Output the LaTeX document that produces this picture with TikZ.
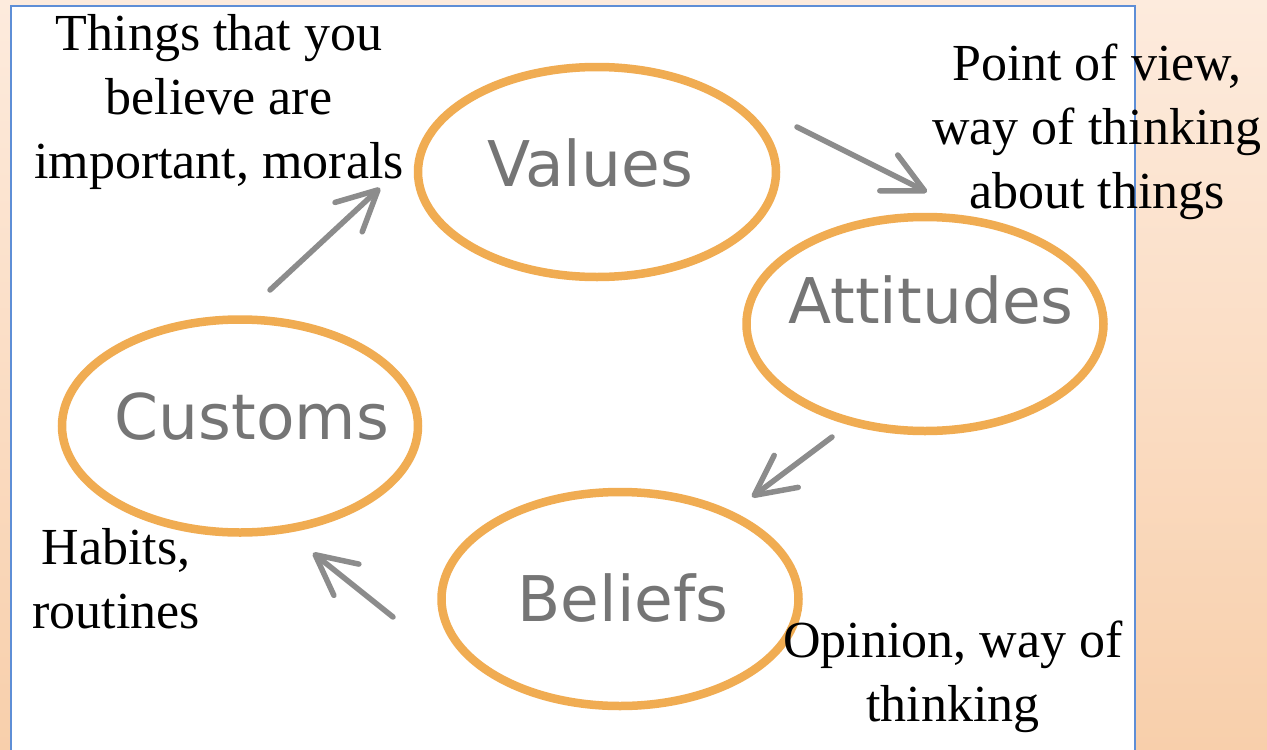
\documentclass[tikz,border=0pt]{standalone}
\usepackage{fontspec}
\setmainfont{Liberation Serif}
\newfontfamily\lblfont{DejaVu Sans}
\usetikzlibrary{arrows.meta,shapes.geometric}
\definecolor{peachtop}{HTML}{FDEBDD}
\definecolor{peachbot}{HTML}{F8CFAB}
\definecolor{ringcol}{HTML}{F0AC52}
\definecolor{lblgray}{HTML}{757575}
\definecolor{arrgray}{HTML}{8C8C8C}
\definecolor{framecol}{HTML}{5E8ED6}
\tikzset{
  ring/.style={ellipse, draw=ringcol, line width=8.5pt, inner sep=0pt, outer sep=0pt},
  lbl/.style={font=\lblfont\fontsize{63}{70}\selectfont, text=lblgray, inner sep=0pt},
  note/.style={font=\fontsize{52}{64}\selectfont, align=center, inner sep=0pt, text=black},
  flow/.style={draw=arrgray, line width=5.5pt, line cap=round,
    -{Straight Barb[length=40pt,width=40pt,line width=5.5pt,round]}},
}
\begin{document}
\begin{tikzpicture}[x=1pt,y=-1pt]
\useasboundingbox (0,0) rectangle (1267,750);
\shade[top color=peachtop, bottom color=peachbot] (0,0) rectangle (1267,750);
\fill[white] (11,6) rectangle (1135,752);
\draw[framecol, line width=1.5pt] (11,752) -- (11,6) -- (1135,6) -- (1135,752);

% rings
\node[ring, minimum width=358pt, minimum height=210pt] (values) at (597,172) {};
\node[ring, minimum width=357pt, minimum height=214pt] (attitudes) at (925,324) {};
\node[ring, minimum width=356pt, minimum height=213pt] (customs) at (240,426) {};
\node[ring, minimum width=357pt, minimum height=214pt] (beliefs) at (620,599) {};

% ring labels
\node[lbl] (valuesT) at (590,163) {Values};
\node[lbl] (attitudesT) at (931,300) {Attitudes};
\node[lbl] (customsT) at (252,417) {Customs};
\node[lbl] (beliefsT) at (623,598) {Beliefs};

% notes (base = baseline of last line)
\node[note, anchor=base] (noteV) at (219,178) {Things that you\\believe are\\important, morals};
\node[note, anchor=base] (noteA) at (1097,208) {Point of view,\\way of thinking\\about things};
\node[note, anchor=base] (noteC) at (116,628) {Habits,\\routines};
\node[note, anchor=base] (noteB) at (953,721) {Opinion, way of\\thinking};

% arrows
\coordinate (cvS) at (270,290); \coordinate (cvE) at (380,188);
\coordinate (vaS) at (797,127); \coordinate (vaE) at (927,192);
\coordinate (abS) at (832,437); \coordinate (abE) at (752,497);
\coordinate (bcS) at (393,617); \coordinate (bcE) at (313,553);
\draw[flow] (cvS) -- (cvE);
\draw[flow] (vaS) -- (vaE);
\draw[flow] (abS) -- (abE);
\draw[flow] (bcS) -- (bcE);
\end{tikzpicture}
\end{document}
